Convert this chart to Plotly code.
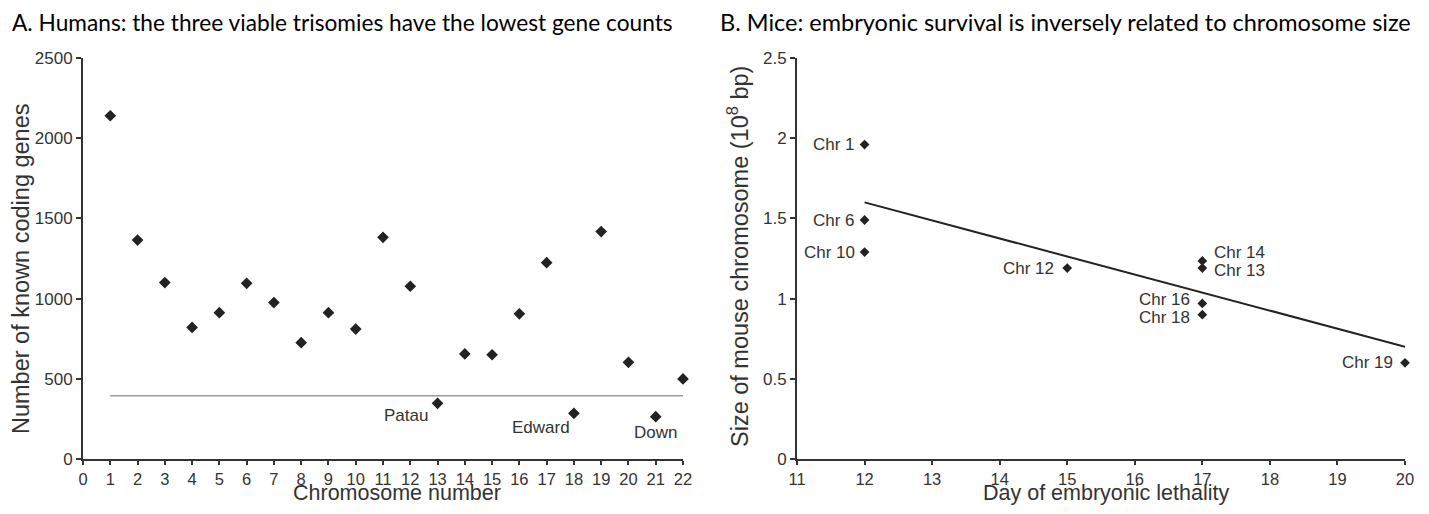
import plotly.graph_objects as go

# page body has an 8px margin: size the figure so it fills the 1429x514 window
OFF = 8
W, H = 1429 - 2 * OFF, 514 - 2 * OFF

# ---- Panel A data: humans ----
chromosomes = list(range(1, 23))
gene_counts = [2140, 1365, 1100, 820, 912, 1095, 975, 725, 912, 810,
               1382, 1077, 347, 655, 650, 905, 1224, 285, 1418, 603, 264, 499]
threshold_x = [1, 22]
threshold_y = [395, 395]
syndrome_names = ["Patau", "Edward", "Down"]
syndrome_chrom = [13, 18, 21]

# ---- Panel B data: mice ----
mouse_labels = ["Chr 1", "Chr 6", "Chr 10", "Chr 12", "Chr 14", "Chr 13",
                "Chr 16", "Chr 18", "Chr 19"]
lethality_day = [12, 12, 12, 15, 17, 17, 17, 17, 20]
chrom_size = [1.96, 1.49, 1.29, 1.19, 1.235, 1.19, 0.97, 0.90, 0.60]
trend_x = [12, 20]
trend_y = [1.60, 0.70]

AX = "#333333"
FONT = "Liberation Sans, Arial, sans-serif"
TFONT = "Lato, Open Sans, sans-serif"

def px(x):  # screen x pixel -> paper fraction
    return (x - OFF) / W

def py(y):  # screen y pixel -> paper fraction
    return 1 - (y - OFF) / H

fig = go.Figure()

fig.add_trace(go.Scatter(x=threshold_x, y=threshold_y, mode="lines",
                         line=dict(color="#9a9a9a", width=1.5),
                         xaxis="x", yaxis="y", showlegend=False, hoverinfo="skip"))
fig.add_trace(go.Scatter(x=chromosomes, y=gene_counts, mode="markers",
                         marker=dict(symbol="diamond", size=9, color="#222222"),
                         cliponaxis=False, xaxis="x", yaxis="y", showlegend=False))

fig.add_trace(go.Scatter(x=trend_x, y=trend_y, mode="lines",
                         line=dict(color="#222222", width=2),
                         xaxis="x2", yaxis="y2", showlegend=False, hoverinfo="skip"))
fig.add_trace(go.Scatter(x=lethality_day, y=chrom_size, mode="markers",
                         marker=dict(symbol="diamond", size=7.5, color="#222222"),
                         cliponaxis=False, xaxis="x2", yaxis="y2", showlegend=False))

axis_common = dict(showgrid=False, zeroline=False, showline=True, linecolor=AX,
                   linewidth=2, ticks="outside", tickwidth=1.5,
                   tickcolor=AX, automargin=False)
ytick = dict(ticklen=5, tickfont=dict(family=FONT, size=17, color=AX))
xtick = dict(ticklen=4, tickfont=dict(family=FONT, size=16.5, color=AX))

y_dom = [py(459), py(58)]
fig.update_layout(
    template="none",
    width=W, height=H,
    margin=dict(l=0, r=0, t=0, b=0, pad=0, autoexpand=False),
    paper_bgcolor="white", plot_bgcolor="white",
    xaxis=dict(domain=[px(83), px(683)], range=[0, 22], dtick=1, tick0=0,
               anchor="y", **axis_common, **xtick),
    yaxis=dict(domain=y_dom, range=[0, 2500], dtick=500, anchor="x",
               **axis_common, **ytick),
    xaxis2=dict(domain=[px(797), px(1405)], range=[11, 20], dtick=1, tick0=11,
                anchor="y2", **axis_common, **xtick),
    yaxis2=dict(domain=y_dom, range=[0, 2.5], dtick=0.5, anchor="x2",
                **axis_common, **ytick),
)

ann = []
# panel titles
ann.append(dict(text="A. Humans: the three viable trisomies have the lowest gene counts",
                x=px(10), y=py(22), xref="paper", yref="paper", xanchor="left",
                yanchor="middle", showarrow=False,
                font=dict(family=TFONT, size=22.7, color="black")))
ann.append(dict(text="B. Mice: embryonic survival is inversely related to chromosome size",
                x=px(718), y=py(22), xref="paper", yref="paper", xanchor="left",
                yanchor="middle", showarrow=False,
                font=dict(family=TFONT, size=23.5, color="black")))
# axis titles
xt_font = dict(family=FONT, size=21.5, color=AX)
yt_font = dict(family=FONT, size=23.5, color=AX)
ann.append(dict(text="Chromosome number", x=px(397), y=py(507), xref="paper", yref="paper",
                showarrow=False, xanchor="center", yanchor="bottom", font=xt_font))
ann.append(dict(text="Day of embryonic lethality", x=px(1106), y=py(507), xref="paper",
                yref="paper", showarrow=False, xanchor="center", yanchor="bottom",
                font=xt_font))
ann.append(dict(text="Number of known coding genes", x=px(21), y=py(269), xref="paper",
                yref="paper", showarrow=False, textangle=-90, xanchor="center",
                yanchor="middle", font=yt_font))
ann.append(dict(text="Size of mouse chromosome (10<sup>8</sup> bp)", x=px(738), y=py(256),
                xref="paper", yref="paper", showarrow=False, textangle=-90,
                xanchor="center", yanchor="middle", font=yt_font))

label_font = dict(family=FONT, size=17, color=AX)
syn_style = {"Patau": ("right", -8, -12), "Edward": ("right", -2, -14),
             "Down": ("center", 0, -16)}
for name, c in zip(syndrome_names, syndrome_chrom):
    xa, xs, ys = syn_style[name]
    ann.append(dict(text=name, x=c, y=gene_counts[c - 1], xref="x", yref="y",
                    showarrow=False, xanchor=xa, yanchor="middle", xshift=xs, yshift=ys,
                    font=label_font))

mouse_style = {"Chr 1": ("right", -8, 0), "Chr 6": ("right", -8, 0),
               "Chr 10": ("right", -8, 0), "Chr 12": ("right", -11, 0),
               "Chr 14": ("left", 10, 8), "Chr 13": ("left", 10, -2),
               "Chr 16": ("right", -10, 4), "Chr 18": ("right", -10, -3),
               "Chr 19": ("right", -10, 0)}
for lab, xv, yv in zip(mouse_labels, lethality_day, chrom_size):
    xa, xs, ys = mouse_style[lab]
    ann.append(dict(text=lab, x=xv, y=yv, xref="x2", yref="y2", showarrow=False,
                    xanchor=xa, yanchor="middle", xshift=xs, yshift=ys, font=label_font))

fig.update_layout(annotations=ann)
fig.write_html("out.html")
